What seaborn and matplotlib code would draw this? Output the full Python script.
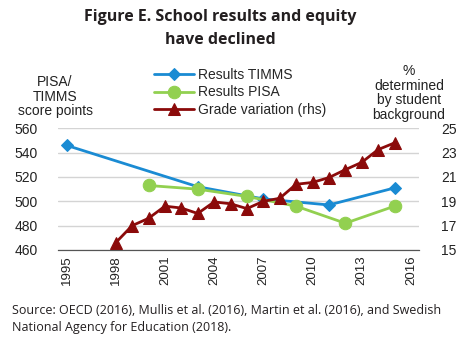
import matplotlib
matplotlib.use("Agg")
import matplotlib.pyplot as plt
import pandas as pd
import seaborn as sns
from matplotlib.ticker import FixedLocator

# Data
timms_years = [1995, 2003, 2007, 2011, 2015]
timms_score = [546, 512, 502, 497, 511]

pisa_years = [2000, 2003, 2006, 2009, 2012, 2015]
pisa_score = [513, 510, 504, 496, 482, 496]

grade_years = list(range(1998, 2016))
grade_var = [15.6, 17.0, 17.6, 18.6, 18.45, 18.0, 18.95, 18.8, 18.4, 19.0,
             19.25, 20.4, 20.55, 20.95, 21.6, 22.2, 23.25, 23.8]

year_labels = [1995, 1998, 2001, 2004, 2007, 2010, 2013, 2016]

df_timms = pd.DataFrame({'year': timms_years, 'value': timms_score})
df_pisa = pd.DataFrame({'year': pisa_years, 'value': pisa_score})
df_grade = pd.DataFrame({'year': grade_years, 'value': grade_var})

sns.set_style("white")
plt.rcParams['font.family'] = ['Liberation Sans Narrow', 'Liberation Sans', 'DejaVu Sans']

blue = '#1a8bd3'
green = '#92d050'
red = '#8b0a0a'

fig = plt.figure(figsize=(4.76, 3.55), dpi=100)
ax = fig.add_axes([0.1225, 0.2958, 0.758, 0.3428])
ax2 = ax.twinx()

sns.lineplot(data=df_timms, x='year', y='value', ax=ax, color=blue, marker='D',
             markersize=6, markeredgecolor=blue, linewidth=2, label='Results TIMMS', legend=False)
sns.lineplot(data=df_pisa, x='year', y='value', ax=ax, color=green, marker='o',
             markersize=9, markeredgecolor=green, linewidth=2, label='Results PISA', legend=False)
sns.lineplot(data=df_grade, x='year', y='value', ax=ax2, color=red, marker='^',
             markersize=8, markeredgecolor=red, linewidth=2, label='Grade variation (rhs)', legend=False)

ax.set_xlim(1994.5, 2016.5)
ax.set_ylim(460, 560)
ax2.set_ylim(15, 25)
ax.set_yticks([460, 480, 500, 520, 540, 560])
ax2.set_yticks([15, 17, 19, 21, 23, 25])

ax.xaxis.set_major_locator(FixedLocator(year_labels))
ax.xaxis.set_minor_locator(FixedLocator([y + 0.5 for y in range(1994, 2017)]))
ax.set_xticklabels([str(y) for y in year_labels], rotation=90)
ax.tick_params(axis='x', which='major', length=0, labelsize=9.5, pad=4, colors='#222222')
ax.tick_params(axis='x', which='minor', length=3.5, width=1, direction='in', color='#555555')
ax2.tick_params(axis='x', which='both', length=0)
ax.tick_params(axis='y', length=0, labelsize=10, pad=15, colors='#222222')
ax2.tick_params(axis='y', length=0, labelsize=10, pad=16, colors='#222222')

ax.yaxis.grid(True, color='#d4d4d4', linewidth=1)
ax.set_axisbelow(True)
for a in (ax, ax2):
    for s in ['top', 'left', 'right']:
        a.spines[s].set_visible(False)
    a.spines['bottom'].set_color('#555555')
ax.set_xlabel('')
ax.set_ylabel('')
ax2.set_ylabel('')

# axis titles
fig.text(55 / 476, 1 - 75 / 355, 'PISA/\nTIMMS\nscore points', ha='center', va='top',
         fontsize=10, linespacing=1.05, color='#222222')
fig.text(409 / 476, 1 - 64 / 355, '%\ndetermined\nby student\nbackground', ha='center', va='top',
         fontsize=10, linespacing=1.05, color='#222222')

# legend
h1, l1 = ax.get_legend_handles_labels()
h2, l2 = ax2.get_legend_handles_labels()
fig.legend(h1 + h2, l1 + l2, loc='upper left', bbox_to_anchor=(154 / 476, 1 - 68 / 355),
           frameon=False, fontsize=10, handlelength=2.9, handletextpad=0.25,
           labelspacing=0.25, borderaxespad=0, borderpad=0)

# title
fig.text(220 / 476, 1 - 9 / 355, 'Figure E. School results and equity\nhave declined',
         ha='center', va='top', fontsize=11.5, fontweight='bold',
         family=['Open Sans', 'DejaVu Sans'], color='#231f20', linespacing=1.6)

# source
fig.text(12 / 476, 1 - 304 / 355,
         'Source: OECD (2016), Mullis et al. (2016), Martin et al. (2016), and Swedish\n'
         'National Agency for Education (2018).',
         ha='left', va='top', fontsize=9, family=['Open Sans', 'DejaVu Sans'],
         color='#231f20', linespacing=1.35)

fig.savefig('out.png', dpi=100)
